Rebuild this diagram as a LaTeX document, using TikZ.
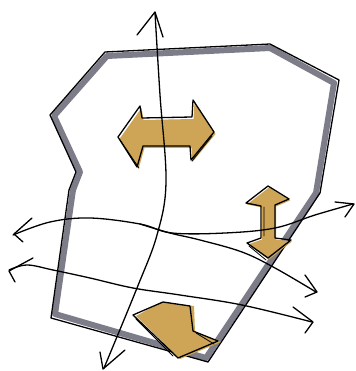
\documentclass[tikz,border=0pt]{standalone}
\definecolor{ochre}{RGB}{206,165,86}
\definecolor{wallgray}{RGB}{125,125,137}
\begin{document}
\begin{tikzpicture}[x=1pt,y=-1pt,line cap=round,line join=round,
  ink/.style={draw=black,line width=1.3pt},
  thinink/.style={draw=black,line width=0.8pt},
  wall/.style={draw=wallgray,line width=6pt},
  ochrefill/.style={fill=ochre,draw=none}]
\useasboundingbox (0,0) rectangle (355,371);
% ---- wall outline (gray band, then black line)
\draw[wall] (107,56) -- (270,48) -- (334,83) -- (316,193) -- (206,358) -- (55,314) -- (73,190) -- (80,172) -- (54,116) -- cycle;
\coordinate (w1) at (105,52);
\coordinate (w2) at (270,44);
\coordinate (w3) at (339,80);
\coordinate (w4) at (320,193);
\coordinate (w5) at (208,362);
\coordinate (w6) at (51,318);
\coordinate (w7) at (69,190);
\coordinate (w8) at (76,172);
\coordinate (w9) at (50,115);
\draw[ink] (w1) -- (w2) -- (w3) -- (w4) -- (w5) -- (w6) -- (w7) -- (w8) -- (w9) -- cycle;
% ---- big horizontal double arrow
\fill[ochrefill,xshift=1.5pt,yshift=-2pt] (118,137) -- (140,106) -- (142,118) -- (192,117) -- (193,100) -- (214,132) -- (191,160) -- (190,146) -- (143,146) -- (137,167) -- cycle;
\draw[ink] (118,137) -- (140,106) -- (142,118) -- (192,117) -- (193,100) -- (214,132) -- (191,160) -- (190,146) -- (143,146) -- (137,167) -- cycle;
\draw[thinink] (120,140) -- (139,168) (192,161) -- (212,136);
% ---- vertical double arrow
\fill[ochrefill,xshift=1pt,yshift=-1.5pt] (268,186) -- (289,199) -- (275,205) -- (275,238) -- (291,240) -- (268,258) -- (247,243) -- (261,238) -- (261,206) -- (246,203) -- cycle;
\draw[ink] (268,186) -- (289,199) -- (275,205) -- (275,238) -- (291,240) -- (268,258) -- (247,243) -- (261,238) -- (261,206) -- (246,203) -- cycle;
\draw[thinink] (264,207) -- (264,236) (249,246) -- (266,260);
% ---- bottom arrow
\fill[ochrefill,xshift=2pt,yshift=-1pt] (134,315) -- (160,301) -- (192,305) -- (193,331) -- (219,341) -- (178,358) -- cycle;
\draw[ink] (133,315) -- (163,302) -- (190,306) -- (193,331) -- (218,341) -- (178,358) -- cycle;
\draw[thinink] (136,319) -- (173,356) (196,333) -- (214,344);
% ---- vertical line with arrows at both ends
\draw[ink] plot[smooth,tension=0.6] coordinates {(155,13) (160,95) (166,182) (157,235) (137,288) (104,368)};
\draw[ink] (137,35) -- (155,12) -- (163,37);
\draw[ink] (100,352) -- (103,369) -- (125,350);
% ---- curve A (left arrow to upper right arrow)
\draw[ink] plot[smooth,tension=0.6] coordinates {(13,235) (50,222) (90,218) (140,224) (172,233) (225,233) (275,228) (315,215) (353,204)};
\draw[ink] (32,218) -- (14,234) -- (23,242);
\draw[ink] (335,202) -- (354,204) -- (345,217);
% ---- curve B (branch down to middle right arrow)
\draw[ink] plot[smooth,tension=0.6] coordinates {(140,224) (170,233) (200,240) (242,252) (275,268) (316,292)};
\draw[ink] (305,275) -- (317,292) -- (305,297);
% ---- curve C (lower left arrow to lower right arrow)
\draw[ink] plot[smooth,tension=0.6] coordinates {(9,270) (27,265) (53,270) (90,278) (133,288) (180,295) (242,305) (312,322)};
\draw[ink] (33,258) -- (9,271) -- (15,282);
\draw[ink] (293,307) -- (313,322) -- (305,333);
\end{tikzpicture}
\end{document}
